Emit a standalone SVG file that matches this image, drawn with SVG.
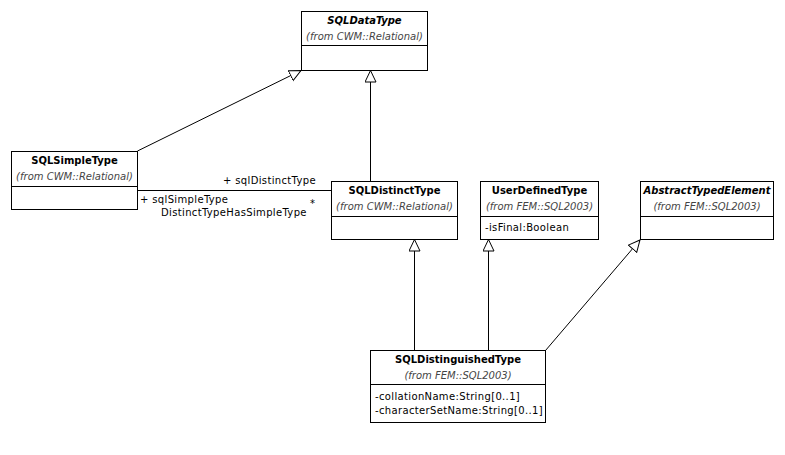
<svg xmlns="http://www.w3.org/2000/svg" width="785" height="455" viewBox="0 0 785 455">
<defs>
<marker id="gen" markerWidth="14" markerHeight="14" refX="12" refY="6" orient="auto" markerUnits="userSpaceOnUse">
<path d="M0.5,0.5 L12,6 L0.5,11.5 Z" fill="#fff" stroke="#000" stroke-width="1"/>
</marker>
<style>
text{font-family:"DejaVu Sans","Liberation Sans",sans-serif;font-size:10px;fill:#000}
.p{letter-spacing:0.35px}
.t{font-weight:bold;text-anchor:middle}
.a{font-style:italic;font-weight:bold;text-anchor:middle}
.f{font-style:italic;text-anchor:middle;fill:#444}
.box{fill:#fff;stroke:#000;stroke-width:1}
.ln{stroke:#000;stroke-width:1;fill:none}
</style>
</defs>
<rect width="785" height="455" fill="#fff"/>
<g id="connectors">
<line class="ln" x1="137.5" y1="151" x2="301" y2="70.5" marker-end="url(#gen)"/>
<line class="ln" x1="370.5" y1="181" x2="370.5" y2="70.5" marker-end="url(#gen)"/>
<line class="ln" x1="137.5" y1="190.5" x2="331" y2="190.5"/>
<line class="ln" x1="414.5" y1="350" x2="414.5" y2="239.5" marker-end="url(#gen)"/>
<line class="ln" x1="488.5" y1="350" x2="488.5" y2="239.5" marker-end="url(#gen)"/>
<line class="ln" x1="545.5" y1="350.5" x2="640" y2="240" marker-end="url(#gen)"/>
<text class="p" x="316" y="184" text-anchor="end">+ sqlDistinctType</text>
<text class="p" x="140" y="203">+ sqlSimpleType</text>
<text class="p" x="161" y="216">DistinctTypeHasSimpleType</text>
<text x="310" y="207">*</text>
</g>
<g id="SQLDataType">
<rect class="box" x="301.5" y="11.5" width="126" height="59"/>
<line class="ln" x1="301.5" y1="45.5" x2="427.5" y2="45.5"/>
<text class="a" x="364.5" y="24">SQLDataType</text>
<text class="f" x="364.5" y="40">(from CWM::Relational)</text>
</g>
<g id="SQLSimpleType">
<rect class="box" x="11.5" y="151.5" width="126" height="58"/>
<line class="ln" x1="11.5" y1="186.5" x2="137.5" y2="186.5"/>
<text class="t" x="74.5" y="164">SQLSimpleType</text>
<text class="f" x="74.5" y="180">(from CWM::Relational)</text>
</g>
<g id="SQLDistinctType">
<rect class="box" x="331.5" y="181.5" width="126" height="58"/>
<line class="ln" x1="331.5" y1="216.5" x2="457.5" y2="216.5"/>
<text class="t" x="394.5" y="194">SQLDistinctType</text>
<text class="f" x="394.5" y="210">(from CWM::Relational)</text>
</g>
<g id="UserDefinedType">
<rect class="box" x="480.5" y="181.5" width="118" height="58"/>
<line class="ln" x1="480.5" y1="216.5" x2="598.5" y2="216.5"/>
<text class="t" x="539.5" y="194">UserDefinedType</text>
<text class="f" x="539.5" y="210">(from FEM::SQL2003)</text>
<text class="p" x="485" y="231">-isFinal:Boolean</text>
</g>
<g id="AbstractTypedElement">
<rect class="box" x="640.5" y="181.5" width="133" height="58"/>
<line class="ln" x1="640.5" y1="216.5" x2="773.5" y2="216.5"/>
<text class="a" x="707" y="194">AbstractTypedElement</text>
<text class="f" x="707" y="210">(from FEM::SQL2003)</text>
</g>
<g id="SQLDistinguishedType">
<rect class="box" x="370.5" y="350.5" width="175" height="72"/>
<line class="ln" x1="370.5" y1="384.5" x2="545.5" y2="384.5"/>
<text class="t" x="458" y="363">SQLDistinguishedType</text>
<text class="f" x="458" y="379">(from FEM::SQL2003)</text>
<text class="p" x="375" y="400">-collationName:String[0..1]</text>
<text class="p" x="375" y="414">-characterSetName:String[0..1]</text>
</g>
</svg>
